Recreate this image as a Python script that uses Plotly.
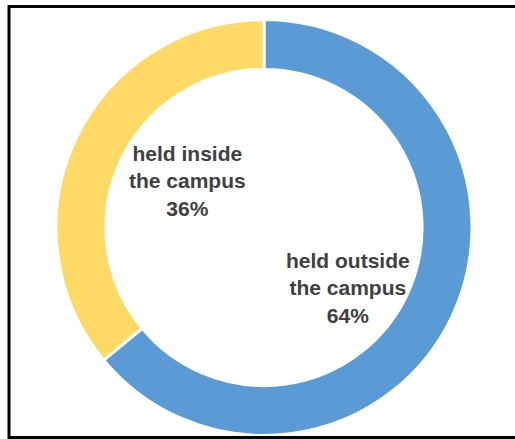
import plotly.graph_objects as go

# Share of events by venue
labels = ["held outside<br>the campus", "held inside<br>the campus"]
values = [64, 36]
colors = ["#5B9BD5", "#FFD966"]

W, H = 515, 439
cx, cy, R = 264, 227.5, 208  # donut centre and outer radius, px

fig = go.Figure(
    go.Pie(
        labels=labels,
        values=values,
        hole=0.76,
        sort=False,
        direction="clockwise",
        rotation=0,
        marker=dict(colors=colors, line=dict(color="white", width=3)),
        textinfo="none",
        hoverinfo="label+percent",
        showlegend=False,
        domain=dict(
            x=[(cx - R) / W, (cx + R) / W],
            y=[(H - cy - R) / H, (H - cy + R) / H],
        ),
    )
)

# Category labels sit inside the hole
label_pos = [(348, 288), (187, 181)]
for lab, val, (px, py) in zip(labels, values, label_pos):
    fig.add_annotation(
        x=px / W, y=1 - py / H, xref="paper", yref="paper",
        text=f"<b>{lab}<br>{val}%</b>",
        showarrow=False, align="center",
        xanchor="center", yanchor="middle",
        font=dict(family="Liberation Sans, Arial, sans-serif", size=21, color="#404040"),
    )

# Frame around the chart area
fig.add_shape(
    type="rect", xref="paper", yref="paper",
    x0=9 / W, x1=1.05, y0=1 - 437.5 / H, y1=1 - 6.5 / H,
    line=dict(color="black", width=3), fillcolor="rgba(0,0,0,0)",
)

fig.update_layout(
    width=W, height=H,
    margin=dict(l=0, r=0, t=0, b=0),
    paper_bgcolor="white", plot_bgcolor="white",
)

fig.write_html("out.html")
